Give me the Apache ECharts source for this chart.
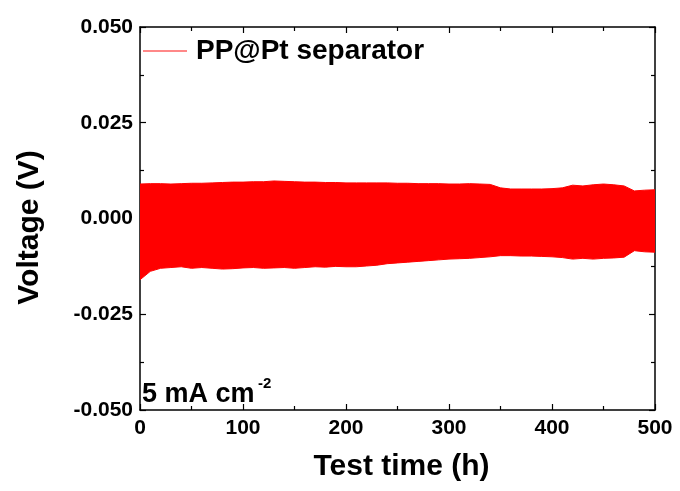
<!DOCTYPE html>
<html>
<head>
<meta charset="utf-8">
<script src="https://cdn.jsdelivr.net/npm/echarts@6/dist/echarts.min.js"></script>
<style>html,body{margin:0;padding:0;background:#fff}#c{width:680px;height:491px}</style>
</head>
<body>
<div id="c"></div>
<script>
// Test time (h), sampled every 10 h
var times = [0,10,20,30,40,50,60,70,80,90,100,110,120,130,140,150,160,170,180,190,200,210,220,230,240,250,260,270,280,290,300,310,320,330,340,350,360,370,380,390,400,410,420,430,440,450,460,470,480,490,500];
// Upper envelope of voltage oscillation (V)
var upperV = [0.0090,0.0091,0.0091,0.0090,0.0091,0.0092,0.0092,0.0093,0.0094,0.0095,0.0095,0.0096,0.0096,0.0098,0.0097,0.0096,0.0095,0.0095,0.0094,0.0094,0.0093,0.0093,0.0093,0.0093,0.0093,0.0092,0.0092,0.0091,0.0091,0.0091,0.0090,0.0090,0.0091,0.0090,0.0089,0.0080,0.0077,0.0077,0.0077,0.0077,0.0078,0.0080,0.0087,0.0085,0.0088,0.0090,0.0088,0.0085,0.0072,0.0074,0.0075];
// Lower envelope of voltage oscillation (V)
var lowerV = [-0.0160,-0.0138,-0.0130,-0.0128,-0.0126,-0.0130,-0.0128,-0.0130,-0.0132,-0.0131,-0.0129,-0.0128,-0.0130,-0.0129,-0.0128,-0.0130,-0.0128,-0.0126,-0.0127,-0.0125,-0.0126,-0.0126,-0.0124,-0.0122,-0.0118,-0.0116,-0.0114,-0.0112,-0.0110,-0.0108,-0.0106,-0.0105,-0.0104,-0.0102,-0.0100,-0.0097,-0.0097,-0.0098,-0.0098,-0.0099,-0.0100,-0.0102,-0.0106,-0.0104,-0.0106,-0.0104,-0.0103,-0.0101,-0.0084,-0.0087,-0.0088];
var seriesName = 'PP@Pt separator';
var xTicks = [0,100,200,300,400,500];
var yTicks = [-0.050,-0.025,0.000,0.025,0.050];

var upperData = times.map(function(t,i){return [t, upperV[i]];});
var lowerData = times.map(function(t,i){return [t, lowerV[i]];});

var chart = echarts.init(document.getElementById('c'), null, {renderer:'canvas'});
var font = 'Liberation Sans, Arial, sans-serif';
function axisCommon(){
  return {
    axisLine:{show:true, onZero:false, lineStyle:{color:'#000', width:1.5}},
    axisTick:{show:true, inside:true, length:6, lineStyle:{color:'#000', width:1.2}},
    minorTick:{show:true, splitNumber:2, length:4, lineStyle:{color:'#000', width:1.2}},
    splitLine:{show:false}
  };
}
var xa = Object.assign(axisCommon(), {
  type:'value', min:xTicks[0], max:xTicks[xTicks.length-1], interval:100,
  name:'Test time (h)', nameLocation:'middle', nameGap:42,
  nameTextStyle:{fontFamily:font, fontWeight:'bold', fontSize:30, color:'#000', padding:[0,0,0,8]},
  axisLabel:{fontFamily:font, fontWeight:'bold', fontSize:21, color:'#000', margin:8}
});
var xa2 = Object.assign(axisCommon(), {
  type:'value', position:'top', min:xTicks[0], max:xTicks[xTicks.length-1], interval:100,
  axisLabel:{show:false}
});
var ya = Object.assign(axisCommon(), {
  type:'value', min:yTicks[0], max:yTicks[yTicks.length-1], interval:0.025,
  name:'Voltage (V)', nameLocation:'middle', nameGap:95,
  nameTextStyle:{fontFamily:font, fontWeight:'bold', fontSize:30, color:'#000', padding:[0,18,0,0]},
  axisLabel:{fontFamily:font, fontWeight:'bold', fontSize:21, color:'#000', margin:7,
    formatter:function(v){return (Math.abs(v)<1e-9?0:v).toFixed(3);}}
});
var ya2 = Object.assign(axisCommon(), {
  type:'value', position:'right', min:yTicks[0], max:yTicks[yTicks.length-1], interval:0.025,
  axisLabel:{show:false}
});

chart.setOption({
  animation:false,
  grid:{left:140, right:25, top:27, bottom:81, containLabel:false},
  xAxis:[xa, xa2],
  yAxis:[ya, ya2],
  legend:{
    show:true, left:138, top:32, icon:'rect', itemWidth:44, itemHeight:1.5,
    data:[{name:seriesName, itemStyle:{color:'#ff6060'}}],
    textStyle:{fontFamily:font, fontWeight:'bold', fontSize:28, color:'#000', padding:[0,0,0,4]}
  },
  series:[
    {name:seriesName, type:'line', xAxisIndex:0, yAxisIndex:0, data:upperData, showSymbol:false,
     lineStyle:{color:'#ff0000', width:1}, itemStyle:{color:'#ff0000'},
     areaStyle:{color:'#ff0000', opacity:1, origin:-0.003}},
    {name:seriesName, type:'line', xAxisIndex:0, yAxisIndex:0, data:lowerData, showSymbol:false,
     lineStyle:{color:'#ff0000', width:1}, itemStyle:{color:'#ff0000'},
     areaStyle:{color:'#ff0000', opacity:1, origin:0.003}}
  ],
  graphic:[
    {type:'text', left:142, top:381, style:{text:'5 mA cm', font:'bold 27px '+font, fill:'#000'}},
    {type:'text', left:258, top:376, style:{text:'-2', font:'bold 15px '+font, fill:'#000'}}
  ]
});
</script>
</body>
</html>
